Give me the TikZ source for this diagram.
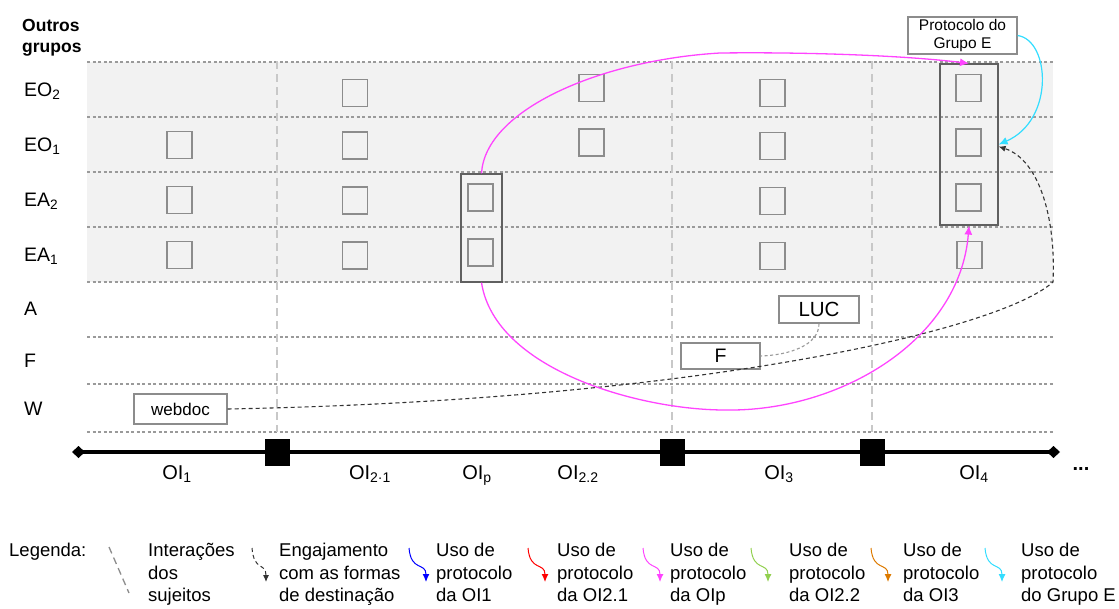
\documentclass[tikz,border=0pt]{standalone}
\usepackage{fontspec}
\setmainfont{Liberation Sans}
\usetikzlibrary{positioning, arrows.meta, calc}
\definecolor{bandgray}{HTML}{F2F2F2}
\definecolor{boxgray}{HTML}{8C8C8C}
\definecolor{grpgray}{HTML}{606060}
\definecolor{hgray}{HTML}{9A9A9A}
\definecolor{vgray}{HTML}{C8C8C8}
\definecolor{usepink}{HTML}{FF44FF}
\definecolor{usecyan}{HTML}{33DDFF}
\definecolor{usegreen}{HTML}{92D050}
\definecolor{useorange}{HTML}{DD7A00}

\begin{document}
\begin{tikzpicture}[x=1pt,y=-1pt,>={Latex[length=9pt,width=8pt]},
  cell/.style={draw=boxgray,fill=bandgray,line width=1.2pt,minimum width=25pt,minimum height=27pt,inner sep=0pt},
  grp/.style={draw=grpgray,line width=1.2pt,inner sep=0pt},
  tag/.style={draw=boxgray,fill=white,line width=1.2pt,inner sep=0pt},
  rowlab/.style={anchor=base west,inner sep=0pt,font=\fontsize{19.5}{22}\selectfont},
  oilab/.style={anchor=base,inner sep=0pt,font=\fontsize{20}{22}\selectfont},
  leg/.style={anchor=north west,inner sep=0pt,align=left,font=\fontsize{18.5}{22.5}\selectfont},
  hline/.style={hgray,line width=1.1pt,dash pattern=on 3pt off 2.5pt},
  vline/.style={vgray,line width=1.5pt,dash pattern=on 8pt off 5pt},
  talk/.style={hgray,line width=1.1pt,dash pattern=on 3pt off 2.5pt},
  engage/.style={black!80,line width=1.1pt,dash pattern=on 4pt off 3pt,-{Latex[length=7pt,width=6pt]}},
  usepath/.style={line width=1.3pt,->}]
  \useasboundingbox (0,0) rectangle (1119,608);

  % band, grid
  \fill[bandgray] (87,62) rectangle (1053,282);
  \foreach \hy in {62,117,172,227,282,337,384,432} \draw[hline] (87,\hy) -- (1053,\hy);
  \foreach \vx in {277,672,872} \draw[vline] (\vx,61) -- (\vx,432);

  % row labels
  \node[anchor=north west,inner sep=0pt,align=left,font=\bfseries\fontsize{17.5}{21}\selectfont] (outros) at (22,17) {\strut Outros\\grupos};
  \foreach \lab/\by [count=\i] in {EO\textsubscript{2}/96, EO\textsubscript{1}/151, EA\textsubscript{2}/206, EA\textsubscript{1}/261, A/315, F/367, W/415}
    \node[rowlab] (row\i) at (24,\by) {\lab};

  % cells
  \foreach \cx/\cy [count=\i] in {179.5/145, 179.5/200, 179.5/255,
      355/93, 355/145.5, 355/200.5, 355/255.5,
      480.5/197.5, 480.5/252.5,
      591.5/88, 591.5/142.5,
      772.5/93, 772.5/146, 772.5/201, 772.5/256,
      968.5/88, 968.5/142.5, 968.5/197.5, 969.5/255}
    \node[cell] (sq\i) at (\cx,\cy) {};
  \node[grp,minimum width=41pt,minimum height=108pt] (grpOIp) at (481.5,228) {};
  \node[grp,minimum width=58pt,minimum height=161pt] (grpOI4) at (969,144.5) {};

  % boxes
  \node[tag,minimum width=109pt,minimum height=37pt,align=center,font=\fontsize{15.5}{18}\selectfont] (proto) at (962.5,35.5) {Protocolo do\\Grupo E};
  \node[tag,minimum width=80pt,minimum height=27pt,font=\fontsize{20.5}{22}\selectfont] (luc) at (819,309.5) {LUC};
  \node[tag,minimum width=79pt,minimum height=26pt,font=\fontsize{19.5}{22}\selectfont] (fbox) at (720.5,356) {F};
  \node[tag,minimum width=93pt,minimum height=30pt,font=\fontsize{17}{20}\selectfont] (webdoc) at (180.5,409) {webdoc};

  % timeline
  \coordinate (tlL) at (72,452);
  \coordinate (tlR) at (1060,452);
  \draw[line width=4.5pt,{Diamond[length=13pt,width=12pt]}-{Diamond[length=13pt,width=12pt]}] (tlL) -- (tlR);
  \foreach \mx [count=\i] in {277,672,872}
    \node[fill=black,minimum width=25pt,minimum height=27pt,inner sep=0pt] (mark\i) at (\mx,452.5) {};
  \foreach \lab/\lx [count=\i] in {OI\textsubscript{1}/177, OI\textsubscript{2·1}/370, OI\textsubscript{p}/477, OI\textsubscript{2.2}/578, OI\textsubscript{3}/779, OI\textsubscript{4}/974}
    \node[oilab] (oi\i) at (\lx,479) {\lab};
  \node[font=\bfseries\fontsize{20}{22}\selectfont,inner sep=0pt] (more) at (1081,469) {...};

  % connectors
  \coordinate (pinkTop) at (720,53);
  \coordinate (pinkLow) at (725,410);
  \coordinate (engBend) at (1053,282);
  \draw[talk] (luc.south) .. controls (819,345) and (790,355) .. (fbox.east);
  \draw[engage] (webdoc.east) .. controls (700,400) and (1000,330) .. (engBend)
    .. controls (1056,220) and (1040,160) .. ([yshift=-2pt]grpOI4.east);
  \draw[usepath,usepink] (grpOIp.north) .. controls (485,110) and (600,60) .. (pinkTop)
    .. controls (800,52) and (900,55) .. (grpOI4.north);
  \draw[usepath,usepink] (grpOIp.south) .. controls (495,370) and (640,410) .. (pinkLow)
    .. controls (840,412) and (960,340) .. (grpOI4.south);
  \draw[usepath,usecyan,line width=1.2pt] (proto.east) .. controls (1050,40) and (1055,120) .. (grpOI4.east);

  % legend
  \node[leg] (legenda) at (9,541) {\strut Legenda:};
  \coordinate (talkA) at (109,547);
  \coordinate (talkB) at (129,593);
  \draw[boxgray,line width=1.3pt,dash pattern=on 7pt off 4.5pt] (talkA) -- (talkB);
  \node[leg] (legtalk) at (148,541) {\strut Interações\\dos\\sujeitos};
  \coordinate (engA) at (252,548);
  \coordinate (engB) at (266,582);
  \draw[engage,line width=1pt] (engA) .. controls +(2,24) and +(0,-20) .. (engB);
  \node[leg] (legeng) at (279,541) {\strut Engajamento\\com as formas\\de destinação};
  \foreach \ax/\col/\tx/\who [count=\i] in {409/blue/436/da OI1, 528/red/557/da OI2.1, 643/usepink/670/da OIp,
      751/usegreen/789/da OI2.2, 871/useorange/903/da OI3, 985/usecyan/1021/do Grupo E} {
    \coordinate (useA\i) at (\ax,548);
    \coordinate (useB\i) at (\ax+17,582);
    \draw[\col,line width=1pt,-{Latex[length=8pt,width=7pt]}] (useA\i) .. controls +(2,24) and +(0,-20) .. (useB\i);
    \node[leg] (leguse\i) at (\tx,541) {\strut Uso de\\protocolo\\\who};
  }
\end{tikzpicture}
\end{document}
